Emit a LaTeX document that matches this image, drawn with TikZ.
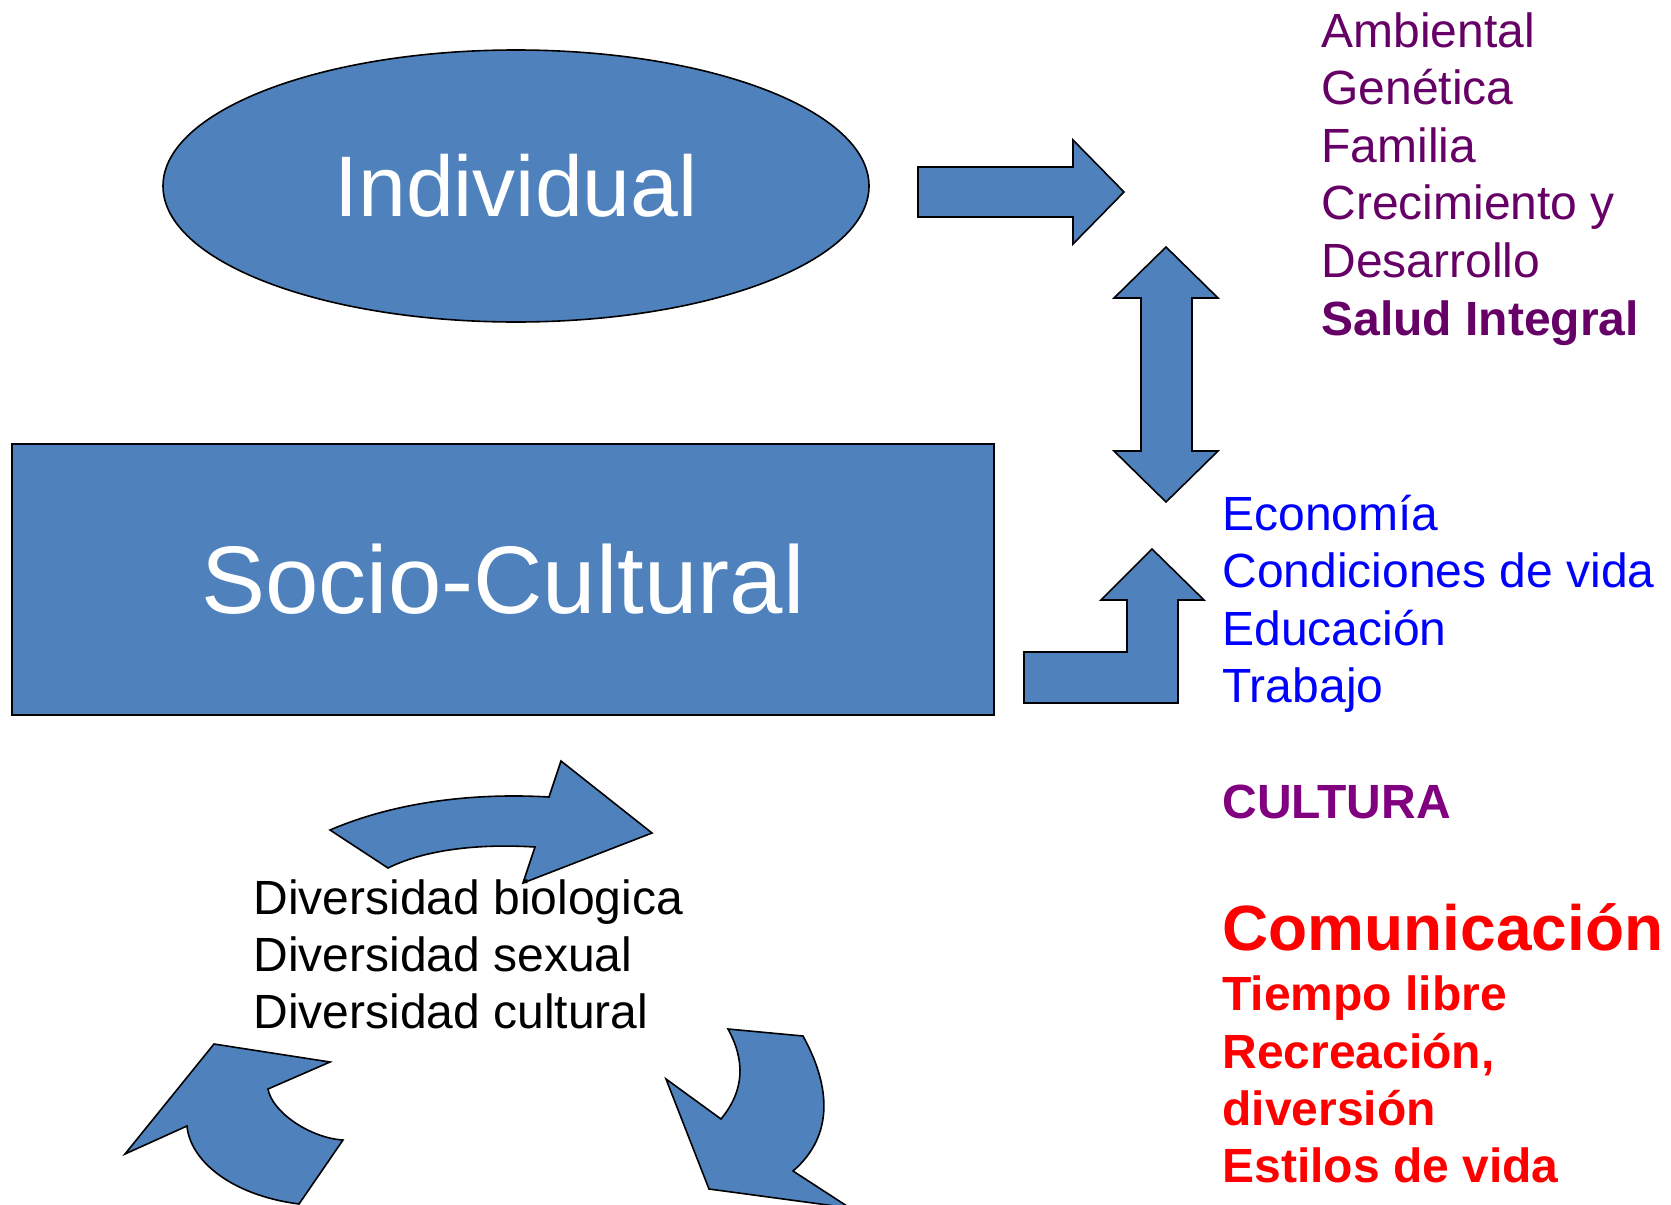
\documentclass[tikz,border=0pt]{standalone}
\usepackage{fontspec}
\setmainfont{Liberation Sans}
\usetikzlibrary{shapes.geometric}
\definecolor{azul}{RGB}{79,129,189}
\definecolor{morado}{RGB}{102,0,102}
\definecolor{violeta}{RGB}{128,0,128}
\begin{document}
\begin{tikzpicture}[x=0.5pt,y=-0.5pt,
  flecha/.style={fill=azul, draw=black, line width=0.8pt, line join=miter},
  lista/.style={anchor=base west, inner sep=0pt, font=\fontsize{24}{28}\selectfont}]
\useasboundingbox (0,0) rectangle (1671,1205);
\clip (0,0) rectangle (1671,1205);
% main shapes
\node[shape=ellipse, draw=black, fill=azul, line width=0.8pt, minimum width=353pt, minimum height=136pt, inner sep=0pt, text=white, font=\fontsize{43}{50}\selectfont] (ind) at (516,186) {Individual};
\node[shape=rectangle, draw=black, fill=azul, line width=0.8pt, minimum width=491pt, minimum height=135.5pt, inner sep=0pt, text=white, font=\fontsize{48}{56}\selectfont] (soc) at (503,579.5) {Socio-Cultural};
% block arrows
\draw[flecha] (918,167) -- (1073,167) -- (1073,140) -- (1124,192) -- (1073,244) -- (1073,217) -- (918,217) -- cycle;
\draw[flecha] (1166,247) -- (1218,298) -- (1192,298) -- (1192,451) -- (1218,451) -- (1166,502) -- (1114,451) -- (1141,451) -- (1141,298) -- (1114,298) -- cycle;
\draw[flecha] (1024,703) -- (1024,652) -- (1127,652) -- (1127,600) -- (1101,600) -- (1152,549) -- (1204,600) -- (1178,600) -- (1178,703) -- cycle;
% curved arrows
\draw[flecha] (330,830) .. controls (400,800) and (480,793) .. (549,797) -- (561,761) -- (652,833) -- (523,883) -- (535,847) .. controls (470,843) and (420,852) .. (388,868) -- cycle;
\draw[flecha] (125,1154) -- (214,1044) -- (330,1062) -- (268,1089) .. controls (272,1112) and (310,1138) .. (343,1140) -- (299,1204) .. controls (230,1195) and (190,1160) .. (187,1126) -- cycle;
\draw[flecha] (728,1029) -- (803,1036) .. controls (830,1085) and (835,1135) .. (793,1171) -- (850,1208) -- (709,1189) -- (666,1079) -- (721,1119) .. controls (745,1090) and (745,1060) .. (728,1029) -- cycle;
% purple list
\node[lista, text=morado] (p1) at (1321,47) {Ambiental};
\node[lista, text=morado] (p2) at (1321,104.6) {Genética};
\node[lista, text=morado] (p3) at (1321,162.2) {Familia};
\node[lista, text=morado] (p4) at (1321,219.8) {Crecimiento y};
\node[lista, text=morado] (p5) at (1321,277.4) {Desarrollo};
\node[lista, text=morado, font=\fontsize{24}{28}\selectfont\bfseries] (p6) at (1321,335) {Salud Integral};
% blue list
\node[lista, text=blue] (b1) at (1222,530) {Economía};
\node[lista, text=blue] (b2) at (1222,587) {Condiciones de vida};
\node[lista, text=blue] (b3) at (1222,645) {Educación};
\node[lista, text=blue] (b4) at (1222,702) {Trabajo};
\node[lista, text=violeta, font=\fontsize{24}{28}\selectfont\bfseries] (cul) at (1222,818) {CULTURA};
% red list
\node[lista, text=red, font=\fontsize{32}{36}\selectfont\bfseries] (r1) at (1222,950) {Comunicación};
\node[lista, text=red, font=\fontsize{24}{28}\selectfont\bfseries] (r2) at (1222,1010) {Tiempo libre};
\node[lista, text=red, font=\fontsize{24}{28}\selectfont\bfseries] (r3) at (1222,1068) {Recreación,};
\node[lista, text=red, font=\fontsize{24}{28}\selectfont\bfseries] (r4) at (1222,1125) {diversión};
\node[lista, text=red, font=\fontsize{24}{28}\selectfont\bfseries] (r5) at (1222,1182) {Estilos de vida};
% diversity
\node[lista] (d1) at (253,914) {Diversidad biologica};
\node[lista] (d2) at (253,971) {Diversidad sexual};
\node[lista] (d3) at (253,1028) {Diversidad cultural};
\end{tikzpicture}
\end{document}
